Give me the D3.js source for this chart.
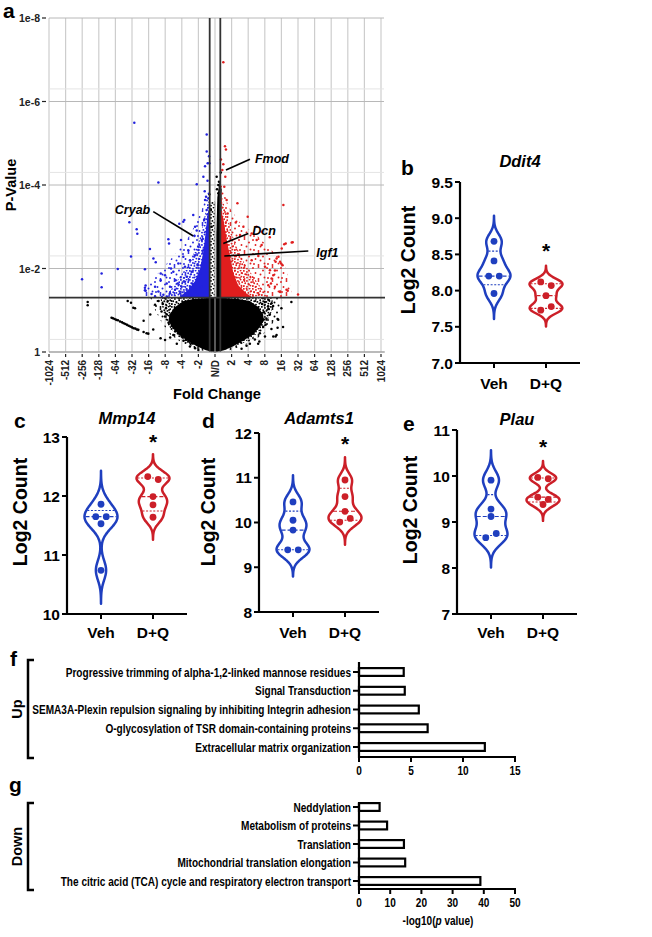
<!DOCTYPE html>
<html><head><meta charset="utf-8">
<script src="https://cdn.jsdelivr.net/npm/d3@7"></script>
<style>
body{margin:0;background:#fff}
svg{display:block}
text{font-family:"Liberation Sans",Arial,Helvetica,sans-serif}
</style>
</head><body>
<svg id="fig" width="652" height="937"></svg>
<script>
// ================= DATA =================
// Panel a: volcano (x = signed log2 fold change, y = -log10 p)
const fcTickValues = [-10,-9,-8,-7,-6,-5,-4,-3,-2,-1,0,1,2,3,4,5,6,7,8,9,10];
const fcTickLabels = ["-1024","-512","-256","-128","-64","-32","-16","-8","-4","-2","N/D","2","4","8","16","32","64","128","256","512","1024"];
const pTickValues = [0,2,4,6,8];
const pTickLabels = ["1","1e-2","1e-4","1e-6","1e-8"];
const pMinorValues = [0.301,2.301,4.301,6.301];
const fcThreshold = 0.32;
const pThreshold = 1.301;

// density regions of the gene cloud (outer = sparse, mid = medium, core = saturated)
const blackOuter = [[-3.9,1.3],[-3.6,1.0],[-3.2,0.7],[-2.7,0.42],[-1.9,0.2],[-0.9,0.04],[0,-0.02],[0.9,0.04],[2.0,0.2],[2.9,0.42],[3.5,0.7],[3.9,1.0],[4.1,1.3]];
const blackMid = [[-3.3,1.3],[-3.1,0.95],[-2.8,0.62],[-2.2,0.36],[-1.3,0.12],[0,0],[1.3,0.12],[2.3,0.36],[3.0,0.62],[3.4,0.95],[3.5,1.3]];
const blackCore = [[-0.3,1.3],[-1.3,1.27],[-1.9,1.22],[-2.4,1.08],[-2.75,0.9],[-2.8,0.75],[-2.6,0.6],[-2.2,0.42],[-1.65,0.27],[-1.1,0.14],[-0.55,0.04],[0,-0.01],[0.55,0.04],[1.1,0.14],[1.7,0.27],[2.3,0.42],[2.7,0.6],[2.95,0.75],[2.9,0.9],[2.6,1.08],[2.1,1.22],[1.4,1.27],[0.4,1.3]];
const ndSparse = [[-0.3,1.3],[-0.3,3.6],[0.0,3.6],[0.0,1.3]];
const ndColumn = [[0.08,1.3],[0.08,2.8],[0.14,3.7],[0.28,4.1],[0.4,3.9],[0.4,1.3]];
const blueOuter = [[-0.32,1.3],[-0.32,4.0],[-0.8,3.4],[-1.5,2.8],[-2.5,2.3],[-3.4,1.9],[-4.2,1.5],[-4.4,1.3]];
const blueMid = [[-0.32,1.3],[-0.32,3.8],[-0.6,3.3],[-1.0,2.6],[-1.6,2.1],[-2.3,1.7],[-3.0,1.3]];
const blueCore = [[-0.32,1.3],[-0.32,3.5],[-0.45,3.3],[-0.55,2.9],[-0.7,2.4],[-0.9,2.0],[-1.2,1.7],[-1.6,1.5],[-2.2,1.3]];
const redOuter = [[0.36,1.3],[0.36,4.1],[0.8,3.5],[1.5,3.1],[2.5,2.8],[3.5,2.4],[4.3,2.0],[4.7,1.3]];
const redMid = [[0.36,1.3],[0.36,3.8],[0.7,3.3],[1.2,2.6],[1.8,2.1],[2.5,1.7],[3.2,1.3]];
const redCore = [[0.36,1.3],[0.36,3.4],[0.5,3.2],[0.7,2.7],[0.9,2.3],[1.1,1.9],[1.4,1.6],[1.9,1.4],[2.3,1.3]];

const blackScatter = [[-7.67,1.20],[-7.67,1.12],[-5.26,1.22],[-5.06,1.18],[-4.92,1.06],[-4.82,1.05],[-3.61,1.13],[-3.4,1.22],[-3.22,0.97],[-3.01,0.85],[-3.15,1.15],[-2.95,1.05],[-2.9,0.9],[-2.85,1.22],[-2.8,0.7],[-2.6,0.62],[-2.51,0.41],[-2.4,0.5],[-2.2,0.45],[-2.01,0.37],[-1.9,0.27],[-1.75,0.29],[-1.61,0.25],[-1.51,0.13],[-1.41,0.21],[-1.2,0.09],[-3.72,0.54],[-3.28,0.33],[-3.01,0.29],[-2.7,0.35],[-2.3,0.2],[-1.0,0.05],[-3.9,0.9],[-4.3,0.75],
 [3.77,0.79],[3.77,0.58],[3.71,0.41],[3.51,0.37],[3.01,0.37],[2.67,0.25],[3.21,1.25],[3.41,1.17],[3.21,1.09],[3.21,1.03],[3.81,0.77],[3.65,0.37],[2.6,0.2],[3.0,1.2],[2.95,0.95],[3.1,0.8],[2.9,0.6],[2.7,0.45],[2.4,0.3],[2.1,0.2],[1.6,0.08],[3.3,0.9],[3.5,1.1],[4.0,1.05],[4.6,1.2],[4.1,0.6],[3.4,0.55],[1.9,0.15],[2.85,1.15],[3.05,0.65],
 [0.24,4.08],[0.3,3.96],[0.2,3.8],[-0.34,3.78],[0.2,4.0],[0.3,3.86],[0.1,4.2],[-0.25,3.4],[-0.2,3.0],[0.35,4.3],[0.12,3.9]];
const zeroCountLine = [[-6.23,0.82],[-6.15,0.81],[-6.05,0.79],[-5.95,0.77],[-5.85,0.76],[-5.72,0.73],[-5.6,0.71],[-5.5,0.69],[-5.4,0.67],[-5.3,0.65],[-5.2,0.63],[-5.1,0.61],[-5.0,0.59],[-4.9,0.57],[-4.8,0.56],[-4.7,0.54],[-4.62,0.53],[-4.3,0.48],[-4.12,0.45],[-4.02,0.44]];
const blueScatter = [[-3.41,4.06],[-1.10,4.02],[-0.5,5.21],[-0.5,4.80],[-0.36,4.69],[-0.44,4.52],[-0.34,4.52],[-0.54,3.72],[-0.4,3.68],[-4.86,5.49],
 [-5.16,3.11],[-4.72,2.94],[-4.68,2.83],[-5.06,2.29],[-5.86,1.99],[-3.92,2.47],[-3.71,2.24],[-3.57,2.15],[-2.81,2.70],[-2.77,2.60],[-2.05,2.68],[-1.85,3.16],[-1.31,3.28],[-1.20,3.0],[-1.24,2.78],[-1.10,2.91],
 [-8.01,1.74],[-6.83,1.88],[-6.83,1.55],[-4.18,1.59],[-4.18,1.47],[-3.82,1.39],[-3.61,1.56],[-3.27,1.88],[-3.27,1.72],[-3.01,1.84],[-2.91,1.64],[-2.65,2.0],[-2.51,1.92],[-2.37,1.72],[-2.21,2.12],[-1.91,2.28],[-1.81,2.04],[-1.71,1.80],[-1.61,2.44],[-1.51,2.20],[-1.41,1.92],[-1.37,1.64],[-1.20,2.32],[-1.04,2.08],[-1.0,2.52],[-0.90,1.88],[-0.80,2.68],[-0.66,3.16],[-0.60,3.64],[-0.50,3.40],[-0.44,3.0],[-0.70,2.44],[-0.84,1.56],
 [-3.61,1.33],[-3.41,1.45],[-3.11,1.37],[-2.71,1.41],[-2.41,1.49],[-2.11,1.41],[-2.01,1.56],[-1.71,1.49],[-1.51,1.37],[-1.20,1.45],[-1.04,1.37],[-2.71,1.56],[-2.25,1.64],[-1.81,1.68],[-1.51,1.56],
 [-4.22,1.98],[-4.22,1.54],[-4.22,1.48],[-2.15,3.07],[-1.91,3.12],[-2.9,1.33],[-3.2,1.32],[-0.62,3.85],[-0.7,4.2],[-0.45,4.1],[-0.6,4.45]];
const redScatter = [[0.5,6.94],[0.6,4.93],[0.66,4.85],[0.36,4.61],[0.44,4.36],[0.56,3.96],[1.35,3.56],[4.12,3.52],[1.97,3.24],[1.71,3.0],[1.51,2.80],[2.21,2.84],[2.51,2.68],[2.81,2.56],[4.26,2.60],[4.68,2.63],[4.02,2.48],[3.82,2.28],[3.65,2.16],[3.98,2.12],[2.61,2.30],[2.21,2.20],[3.01,2.04],[3.31,1.96],[3.21,1.60],[3.61,1.56],[4.38,1.47],[3.92,1.45],
 [4.62,2.62],[4.17,2.58],[3.71,2.24],[3.92,2.16],[4.07,2.08],[3.61,1.95],[3.51,1.84],[3.41,1.76],[3.37,1.64],[3.92,1.44],[4.31,1.49],[2.81,2.88],[2.5,3.0],[3.3,2.75],[0.62,4.2],[0.5,4.5],[0.7,3.64],[0.76,3.32],[1.25,3.1],[5.0,1.38]];

const geneNames = ["Fmod","Dcn","Igf1","Cryab"];
const geneFC = [0.66,0.5,0.56,-1.31];
const geneP = [4.36,2.6,2.3,2.78];

// Panels b-e: violin data (Log2 count)
const groups = ["Veh","D+Q"];
const ddit4Veh = [8.68,8.41,8.20,8.20,7.96];
const ddit4DQ  = [8.12,8.07,7.93,7.73,7.78];
const mmp14Veh = [11.86,11.65,11.65,11.53,10.74];
const mmp14DQ  = [12.33,12.28,11.99,11.85,11.64];
const adamts1Veh = [10.46,10.05,9.83,9.39,9.39];
const adamts1DQ  = [10.95,10.58,10.25,10.01,10.09];
const plauVeh = [9.91,9.28,9.12,8.66,8.75];
const plauDQ  = [9.97,9.94,9.54,9.49,9.38];
const ticksB = [7,7.5,8,8.5,9,9.5];
const ticksC = [10,11,12,13];
const ticksD = [8,9,10,11,12];
const ticksE = [7,8,9,10,11];

// Panels f-g: pathway enrichment (-log10 p)
const upTerms = ["Progressive trimming of alpha-1,2-linked mannose residues","Signal Transduction","SEMA3A-Plexin repulsion signaling by inhibiting Integrin adhesion","O-glycosylation of TSR domain-containing proteins","Extracellular matrix organization"];
const upValues = [4.3,4.4,5.75,6.6,12.1];
const downTerms = ["Neddylation","Metabolism of proteins","Translation","Mitochondrial translation elongation","The citric acid (TCA) cycle and respiratory electron transport"];
const downValues = [6.6,9.0,14.4,14.8,38.9];
const upTicks = [0,5,10,15];
const downTicks = [0,10,20,30,40,50];

// ================= DRAW =================
const svg = d3.select("#fig");
svg.append("rect").attr("width",652).attr("height",937).attr("fill","#fff");
const BLUE_PT = "#2222dd", RED_PT = "#e01e1e";

const defs = svg.append("defs");
const midDots = [[0.8,0.9],[3.9,1.9],[6.6,0.6],[2.2,4.3],[5.4,4.9],[0.9,7.0],[4.0,7.6],[7.4,6.6],[8.2,3.2]];
const sparseDots = [[1,2],[6.5,1],[11,4.5],[3.5,7],[8.5,8.5],[12.5,11.5],[2,12],[6.5,13]];
[["mid-k","#000",9,midDots],["mid-b",BLUE_PT,9,midDots],["mid-r",RED_PT,9,midDots],
 ["sp-k","#000",14,sparseDots],["sp-b",BLUE_PT,14,sparseDots],["sp-r",RED_PT,14,sparseDots]].forEach(([id,c,sz,pts])=>{
  const p = defs.append("pattern").attr("id",id).attr("width",sz).attr("height",sz).attr("patternUnits","userSpaceOnUse");
  p.selectAll("circle").data(pts).join("circle").attr("cx",d=>d[0]).attr("cy",d=>d[1]).attr("r",0.95).attr("fill",c);
});

// ---------- Panel a ----------
const xV = d3.scaleLinear().domain([-10,10]).range([49,381]);
const yV = d3.scaleLinear().domain([0,8]).range([352,18]);
const A = svg.append("g");
A.append("g").selectAll("line").data(fcTickValues).join("line")
  .attr("x1",d=>xV(d)).attr("x2",d=>xV(d)).attr("y1",yV(8)).attr("y2",yV(0))
  .attr("stroke","#cdcdcd").attr("stroke-width",1.2);
A.append("g").selectAll("line").data(pMinorValues).join("line")
  .attr("x1",xV(-10)).attr("x2",384).attr("y1",d=>yV(d)).attr("y2",d=>yV(d))
  .attr("stroke","#e4e4e4").attr("stroke-width",1);
A.append("g").selectAll("line").data(pTickValues).join("line")
  .attr("x1",xV(-10)).attr("x2",384).attr("y1",d=>yV(d)).attr("y2",d=>yV(d))
  .attr("stroke","#b8b8b8").attr("stroke-width",1);

const poly = d3.line().x(d=>xV(d[0])).y(d=>yV(d[1])).curve(d3.curveLinearClosed);
function region(data, fill){ A.append("path").attr("d",poly(data)).attr("fill",fill); }
function dots(data,color,r){
  A.append("g").selectAll("circle").data(data).join("circle")
   .attr("cx",d=>xV(d[0])).attr("cy",d=>yV(d[1])).attr("r",r||1.25).attr("fill",color);
}
region(blackOuter,"url(#sp-k)");
region(blackMid,"url(#mid-k)");
region(blackCore,"#000");
region(ndSparse,"url(#mid-k)");
region(ndColumn,"#000");
dots(blackScatter,"#000");
dots(zeroCountLine,"#000",1.3);
region(blueOuter,"url(#sp-b)");
region(blueMid,"url(#mid-b)");
region(blueCore,BLUE_PT);
region(redOuter,"url(#sp-r)");
region(redMid,"url(#mid-r)");
region(redCore,RED_PT);
dots(blueScatter,BLUE_PT);
dots(redScatter,RED_PT);

A.append("line").attr("x1",xV(0)).attr("x2",xV(0)).attr("y1",yV(3.6)).attr("y2",yV(0))
 .attr("stroke","#b0b0b0").attr("stroke-width",1);
[-fcThreshold, fcThreshold].forEach(v=>{
  A.append("line").attr("x1",xV(v)).attr("x2",xV(v)).attr("y1",yV(8)).attr("y2",yV(0))
   .attr("stroke","#333").attr("stroke-width",1.8);
});
A.append("line").attr("x1",xV(-10)).attr("x2",385).attr("y1",yV(pThreshold)).attr("y2",yV(pThreshold))
 .attr("stroke","#333").attr("stroke-width",1.8);
A.append("line").attr("x1",xV(-10)).attr("x2",385).attr("y1",yV(0)).attr("y2",yV(0))
 .attr("stroke","#999").attr("stroke-width",1);

A.append("g").selectAll("line").data(fcTickValues).join("line")
 .attr("x1",d=>xV(d)).attr("x2",d=>xV(d)).attr("y1",354).attr("y2",357).attr("stroke","#222").attr("stroke-width",1.2);
A.append("g").selectAll("text").data(fcTickValues).join("text")
 .attr("transform",d=>`translate(${xV(d)},360) rotate(-90)`)
 .attr("text-anchor","end").attr("dominant-baseline","central")
 .attr("font-size",10).attr("font-weight","bold").attr("fill","#222")
 .text((d,i)=>fcTickLabels[i]);
A.append("g").selectAll("line").data(pTickValues).join("line")
 .attr("x1",42).attr("x2",46).attr("y1",d=>yV(d)).attr("y2",d=>yV(d)).attr("stroke","#222").attr("stroke-width",1.2);
A.append("g").selectAll("text").data(pTickValues).join("text")
 .attr("x",40).attr("y",d=>yV(d)).attr("text-anchor","end").attr("dominant-baseline","central")
 .attr("font-size",10.5).attr("font-weight","bold").attr("fill","#222")
 .text((d,i)=>pTickLabels[i]);
A.append("text").attr("transform","translate(11,185) rotate(-90)").attr("text-anchor","middle")
 .attr("dominant-baseline","central").attr("font-size",14.5).attr("font-weight","bold").text("P-Value");
A.append("text").attr("x",217).attr("y",399).attr("text-anchor","middle")
 .attr("font-size",14.5).attr("font-weight","bold").text("Fold Change");
A.append("text").attr("x",3).attr("y",18).attr("font-size",21).attr("font-weight","bold").text("a");

const annLayout = {
  Fmod:{lx:24,ly:-10.7,tx:29,ty:-7,anchor:"start"},
  Dcn:{lx:25,ly:-10,tx:29,ty:-8,anchor:"start"},
  Igf1:{lx:84,ly:-5,tx:92,ty:1,anchor:"start"},
  Cryab:{lx:-40,ly:-24.3,tx:-43,ty:-22,anchor:"end"}
};
geneNames.forEach((gname,i)=>{
  const px = xV(geneFC[i]), py = yV(geneP[i]), L = annLayout[gname];
  A.append("line").attr("x1",px).attr("y1",py).attr("x2",px+L.lx).attr("y2",py+L.ly)
   .attr("stroke","#000").attr("stroke-width",1.7);
  A.append("text").attr("x",px+L.tx).attr("y",py+L.ty).attr("text-anchor",L.anchor)
   .attr("font-size",12.5).attr("font-weight","bold").attr("font-style","italic").text(gname);
});

// ---------- Violin panels ----------
const groupColors = ["#1f3fbf","#cc1f28"];
function violinPanel(p){
  const g = svg.append("g");
  const y = d3.scaleLinear().domain(p.domain).range([p.yBot,p.yTop]);
  const x = d3.scalePoint().domain(groups).range([p.ax+34,p.ax+86]);
  p.data.forEach((vals,i)=>{
    const cx = x(groups[i]), color = groupColors[i];
    const n = vals.length, sd = d3.deviation(vals);
    const scott = 1.06*sd*Math.pow(n,-0.2);
    const h = 0.5*scott;
    const lo = d3.min(vals)-1.7*scott, hi = d3.max(vals)+1.7*scott;
    const dens = v => d3.sum(vals, d => Math.exp(-0.5*((v-d)/h)**2));
    const pts = d3.range(121).map(k=>{const v = lo+(hi-lo)*k/120; return [v,dens(v)];});
    const maxD = d3.max(pts,d=>d[1]);
    const w = d3.scaleLinear().domain([0,maxD]).range([0,16.5]);
    g.append("path").datum(pts)
     .attr("d",d3.area().y(d=>y(d[0])).x0(d=>cx-w(d[1])).x1(d=>cx+w(d[1])).curve(d3.curveBasis))
     .attr("fill","#fff").attr("stroke",color).attr("stroke-width",2.5).attr("stroke-linejoin","round");
    const s = vals.slice().sort(d3.ascending);
    const q = pr => { const pos = pr*(n+1); const a = Math.max(1,Math.min(n,Math.floor(pos))); const b = Math.max(1,Math.min(n,Math.ceil(pos))); return s[a-1]+(s[b-1]-s[a-1])*(pos-Math.floor(pos)); };
    [[0.25,"2,1.6"],[0.5,"4,2"],[0.75,"2,1.6"]].forEach(([pr,dash])=>{
      const v = q(pr), hw = w(dens(v));
      g.append("line").attr("x1",cx-hw+1).attr("x2",cx+hw-1).attr("y1",y(v)).attr("y2",y(v))
       .attr("stroke",color).attr("stroke-width",1.1).attr("stroke-dasharray",dash);
    });
    const order = d3.range(n).sort((a,b)=>vals[b]-vals[a]);
    const clusters = []; let cur = [order[0]];
    for(let k=1;k<n;k++){
      if (Math.abs(y(vals[order[k]])-y(vals[cur[cur.length-1]]))<4.5) cur.push(order[k]);
      else { clusters.push(cur); cur=[order[k]]; }
    }
    clusters.push(cur);
    const off = new Array(n).fill(0);
    clusters.forEach(c=>{ c.sort((a,b)=>a-b); c.forEach((idx,j)=>{ off[idx]=(j-(c.length-1)/2)*10.5; }); });
    g.append("g").selectAll("circle").data(vals).join("circle")
     .attr("cx",(d,k)=>cx+off[k]).attr("cy",d=>y(d)).attr("r",3.4).attr("fill",color);
  });
  g.append("line").attr("x1",p.ax).attr("x2",p.ax).attr("y1",p.yTop).attr("y2",p.yBot+1)
   .attr("stroke","#000").attr("stroke-width",2.2);
  g.append("line").attr("x1",p.ax-1).attr("x2",p.ax+120).attr("y1",p.yBot).attr("y2",p.yBot)
   .attr("stroke","#000").attr("stroke-width",2.2);
  g.append("g").selectAll("line").data(p.ticks).join("line")
   .attr("x1",p.ax-5).attr("x2",p.ax).attr("y1",d=>y(d)).attr("y2",d=>y(d)).attr("stroke","#000").attr("stroke-width",2);
  g.append("g").selectAll("text").data(p.ticks).join("text")
   .attr("x",p.ax-7).attr("y",d=>y(d)).attr("text-anchor","end").attr("dominant-baseline","central")
   .attr("font-size",15.5).attr("font-weight","bold").text(d=>d3.format(p.fmt)(d));
  g.append("g").selectAll("line").data(groups).join("line")
   .attr("x1",d=>x(d)).attr("x2",d=>x(d)).attr("y1",p.yBot).attr("y2",p.yBot+5).attr("stroke","#000").attr("stroke-width",2);
  g.append("g").selectAll("text").data(groups).join("text")
   .attr("x",d=>x(d)).attr("y",p.xLabY).attr("text-anchor","middle")
   .attr("font-size",15.5).attr("font-weight","bold").text(d=>d);
  g.append("text").attr("x",p.ax+60).attr("y",p.titleY).attr("text-anchor","middle")
   .attr("font-size",16.5).attr("font-weight","bold").attr("font-style","italic").text(p.title);
  g.append("text").attr("x",x("D+Q")).attr("y",p.starY+11).attr("text-anchor","middle")
   .attr("font-size",21).attr("font-weight","bold").text("*");
  g.append("text").attr("transform",`translate(${p.ylx},${p.yly}) rotate(-90)`).attr("text-anchor","middle")
   .attr("dominant-baseline","central").attr("font-size",19.5).attr("font-weight","bold").text("Log2  Count");
  g.append("text").attr("x",p.lx).attr("y",p.ly).attr("font-size",21).attr("font-weight","bold").text(p.letter);
}
violinPanel({ax:460,yTop:182,yBot:363,domain:[7,9.5],ticks:ticksB,fmt:".1f",data:[ddit4Veh,ddit4DQ],
  title:"Ddit4",titleY:167,starY:247,xLabY:389,ylx:408,yly:260,letter:"b",lx:401,ly:175});
violinPanel({ax:67,yTop:437,yBot:614,domain:[10,13],ticks:ticksC,fmt:"d",data:[mmp14Veh,mmp14DQ],
  title:"Mmp14",titleY:424,starY:438,xLabY:638,ylx:20,yly:512,letter:"c",lx:14,ly:428});
violinPanel({ax:259,yTop:433,yBot:612,domain:[8,12],ticks:ticksD,fmt:"d",data:[adamts1Veh,adamts1DQ],
  title:"Adamts1",titleY:424,starY:440,xLabY:638,ylx:208,yly:512,letter:"d",lx:202,ly:428});
violinPanel({ax:457,yTop:430,yBot:614,domain:[7,11],ticks:ticksE,fmt:"d",data:[plauVeh,plauDQ],
  title:"Plau",titleY:425,starY:443,xLabY:638,ylx:410,yly:510,letter:"e",lx:403,ly:431});

// ---------- Bar panels ----------
const FS = 13.5;
const meas = svg.append("text").attr("font-size",FS).attr("font-weight","bold").text(upTerms[2]);
const sx = 319/meas.node().getComputedTextLength();
meas.remove();
function condText(g,x,y,str,anchor){
  return g.append("g").attr("transform",`translate(${x},${y}) scale(${sx},1)`)
   .append("text").attr("text-anchor",anchor).attr("dominant-baseline","central")
   .attr("font-size",FS).attr("font-weight","bold").text(str);
}
function barPanel(p){
  const g = svg.append("g");
  const x = d3.scaleLinear().domain(p.domain).range([359,515]);
  const y = d3.scalePoint().domain(p.terms).range([p.c0,p.c1]);
  g.selectAll("rect").data(p.terms).join("rect")
   .attr("x",x(0)).attr("y",d=>y(d)-3.9).attr("width",(d,i)=>x(p.values[i])-x(0)).attr("height",7.8)
   .attr("fill","#fff").attr("stroke","#000").attr("stroke-width",2.2);
  g.append("line").attr("x1",359).attr("x2",359).attr("y1",p.a0).attr("y2",p.a1+1).attr("stroke","#000").attr("stroke-width",2.2);
  g.append("line").attr("x1",358).attr("x2",516).attr("y1",p.a1).attr("y2",p.a1).attr("stroke","#000").attr("stroke-width",2.2);
  g.append("g").selectAll("line").data(p.terms).join("line")
   .attr("x1",353).attr("x2",359).attr("y1",d=>y(d)).attr("y2",d=>y(d)).attr("stroke","#000").attr("stroke-width",2);
  p.terms.forEach(t=>condText(g,351,y(t),t,"end"));
  g.append("g").selectAll("line").data(p.ticks).join("line")
   .attr("x1",d=>x(d)).attr("x2",d=>x(d)).attr("y1",p.a1).attr("y2",p.a1+5).attr("stroke","#000").attr("stroke-width",2);
  p.ticks.forEach(t=>condText(g,x(t),p.a1+13,String(t),"middle"));
  g.append("path").attr("d",`M34,${p.b0} H28 V${p.b1} H34`).attr("fill","none").attr("stroke","#000").attr("stroke-width",2.5);
  g.append("text").attr("transform",`translate(17,${(p.b0+p.b1)/2}) rotate(-90)`).attr("text-anchor","middle")
   .attr("dominant-baseline","central").attr("font-size",14.5).attr("font-weight","bold").text(p.group);
  g.append("text").attr("x",p.lx).attr("y",p.ly).attr("font-size",21).attr("font-weight","bold").text(p.letter);
}
barPanel({terms:upTerms,values:upValues,ticks:upTicks,domain:[0,15],c0:672,c1:747,a0:662,a1:757,b0:660,b1:758,group:"Up",letter:"f",lx:10,ly:666});
barPanel({terms:downTerms,values:downValues,ticks:downTicks,domain:[0,50],c0:807,c1:881,a0:803,a1:889,b0:803,b1:890,group:"Down",letter:"g",lx:9,ly:792});
const tt = svg.append("g").attr("transform",`translate(438,920) scale(${sx},1)`)
 .append("text").attr("text-anchor","middle").attr("dominant-baseline","central")
 .attr("font-size",FS).attr("font-weight","bold");
tt.append("tspan").text("-log10(");
tt.append("tspan").attr("font-style","italic").text("p");
tt.append("tspan").text(" value)");
</script>
</body></html>
